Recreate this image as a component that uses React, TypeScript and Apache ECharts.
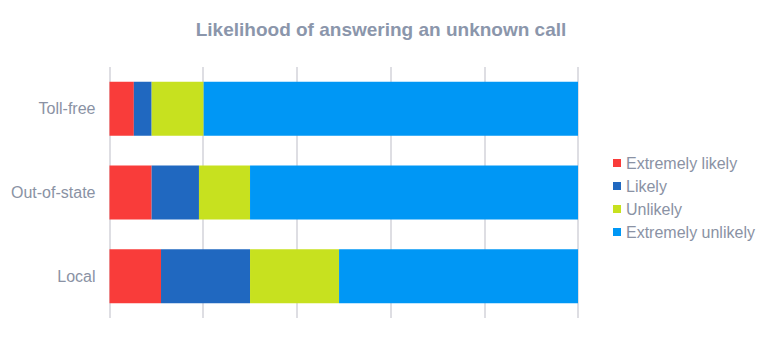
import React, { useEffect, useRef } from "react";
import * as echarts from "echarts";

const categories = ["Local", "Out-of-state", "Toll-free"];
const seriesNames = ["Extremely likely", "Likely", "Unlikely", "Extremely unlikely"];
const extremelyLikely = [11, 9, 5.2];
const likely = [19, 10.1, 3.8];
const unlikely = [19, 10.9, 11.1];
const extremelyUnlikely = [51, 70, 79.9];
const colors = ["#F93C3A", "#2068C0", "#C7E11F", "#0097F5"];

export default function App() {
  const ref = useRef<HTMLDivElement>(null);
  useEffect(() => {
    if (!ref.current) return;
    const chart = echarts.init(ref.current, null, { renderer: "svg" });
    const textColor = "#8A92A4";
    const values = [extremelyLikely, likely, unlikely, extremelyUnlikely];
    chart.setOption({
      animation: false,
      title: {
        text: "Likelihood of answering an unknown call",
        left: 373,
        textAlign: "center",
        top: 12,
        padding: 0,
        textStyle: {
          fontFamily: "Liberation Sans, Arial, sans-serif",
          fontSize: 19,
          fontWeight: "bold",
          color: "#8B96AB",
        },
      },
      legend: {
        orient: "vertical",
        left: 605,
        top: 147,
        padding: 0,
        icon: "rect",
        itemWidth: 8,
        itemHeight: 8,
        itemGap: 7,
        data: seriesNames,
        textStyle: {
          fontFamily: "Liberation Sans, Arial, sans-serif",
          fontSize: 16,
          lineHeight: 16,
          color: textColor,
        },
      },
      grid: { left: 95, top: 59, width: 475, height: 251, containLabel: false },
      xAxis: {
        type: "value",
        min: 0,
        max: 100,
        interval: 20,
        axisLabel: { show: false },
        axisLine: { show: false },
        axisTick: { show: false },
        splitLine: { show: true, lineStyle: { color: "#D3D3DA", width: 1.5 } },
      },
      yAxis: {
        type: "category",
        data: categories,
        axisLine: { show: false },
        axisTick: { show: false },
        axisLabel: {
          margin: 14,
          fontFamily: "Liberation Sans, Arial, sans-serif",
          fontSize: 16,
          color: textColor,
        },
      },
      series: seriesNames.map((name, i) => ({
        name,
        type: "bar",
        stack: "total",
        barWidth: "64.5%",
        itemStyle: { color: colors[i] },
        data: values[i],
      })),
    });
    return () => chart.dispose();
  }, []);
  return <div ref={ref} style={{ width: 752, height: 322 }} />;
}
